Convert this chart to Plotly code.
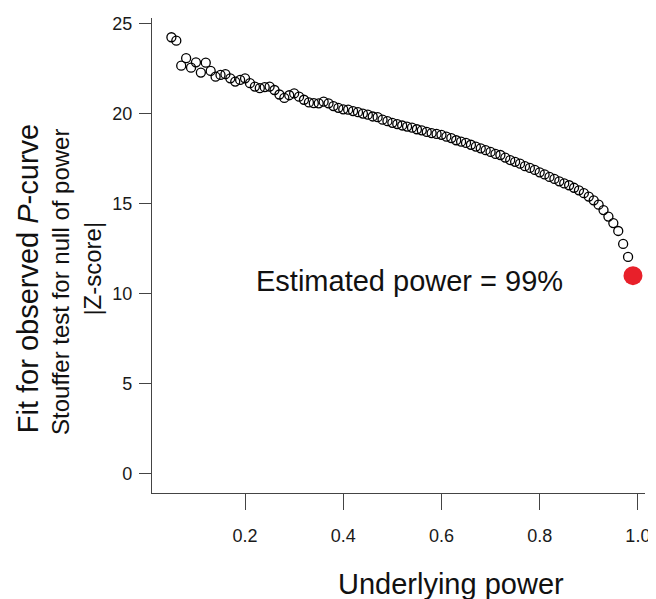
import plotly.graph_objects as go

# Underlying power levels (open circles) and the Stouffer |Z| fit
power = [0.05, 0.06, 0.07, 0.08, 0.09, 0.10, 0.11, 0.12, 0.13, 0.14,
         0.15, 0.16, 0.17, 0.18, 0.19, 0.20, 0.21, 0.22, 0.23, 0.24,
         0.25, 0.26, 0.27, 0.28, 0.29, 0.30, 0.31, 0.32, 0.33, 0.34,
         0.35, 0.36, 0.37, 0.38, 0.39, 0.40, 0.41, 0.42, 0.43, 0.44,
         0.45, 0.46, 0.47, 0.48, 0.49, 0.50, 0.51, 0.52, 0.53, 0.54,
         0.55, 0.56, 0.57, 0.58, 0.59, 0.60, 0.61, 0.62, 0.63, 0.64,
         0.65, 0.66, 0.67, 0.68, 0.69, 0.70, 0.71, 0.72, 0.73, 0.74,
         0.75, 0.76, 0.77, 0.78, 0.79, 0.80, 0.81, 0.82, 0.83, 0.84,
         0.85, 0.86, 0.87, 0.88, 0.89, 0.90, 0.91, 0.92, 0.93, 0.94,
         0.95, 0.96, 0.97, 0.98]
zscore = [24.22, 24.03, 22.64, 23.06, 22.53, 22.83, 22.26, 22.81, 22.35, 22.03,
          22.13, 22.17, 21.94, 21.76, 21.85, 21.94, 21.67, 21.48, 21.39, 21.45,
          21.48, 21.29, 21.04, 20.85, 21.00, 21.10, 20.92, 20.75, 20.60, 20.56,
          20.55, 20.64, 20.55, 20.40, 20.30, 20.22, 20.20, 20.12, 20.06, 19.98,
          19.92, 19.82, 19.78, 19.64, 19.56, 19.47, 19.40, 19.32, 19.26, 19.20,
          19.11, 19.05, 18.96, 18.90, 18.85, 18.80, 18.70, 18.62, 18.50, 18.42,
          18.35, 18.25, 18.15, 18.05, 17.95, 17.85, 17.74, 17.68, 17.54, 17.40,
          17.30, 17.20, 17.06, 16.96, 16.85, 16.72, 16.60, 16.46, 16.35, 16.22,
          16.10, 16.00, 15.86, 15.72, 15.56, 15.37, 15.16, 14.92, 14.62, 14.26,
          13.90, 13.46, 12.74, 12.02]

# Estimated power (red point)
est_power = [0.99]
est_z = [10.98]

x_ticks = [0.2, 0.4, 0.6, 0.8, 1.0]
y_ticks = [0, 5, 10, 15, 20, 25]

FONT = "Liberation Sans, Arial, Helvetica, sans-serif"

# The page body adds an 8px margin, so the figure is 8px smaller and offset.
OFF = 8
W, H = 656 - OFF, 599 - OFF
L, R, T, B = 152 - OFF, 6, 18 - OFF, 106  # plot area on page: x 152..650, y 18..493

fig = go.Figure()
fig.add_trace(go.Scatter(
    x=power, y=zscore, mode="markers",
    marker=dict(symbol="circle-open", size=9, color="black",
                line=dict(width=1.3, color="black")),
    showlegend=False, hoverinfo="x+y"))
fig.add_trace(go.Scatter(
    x=est_power, y=est_z, mode="markers",
    marker=dict(symbol="circle", size=19, color="#e8202a",
                line=dict(width=0)),
    showlegend=False, hoverinfo="x+y"))

axis_common = dict(showgrid=False, zeroline=False, showline=True,
                   linecolor="#444", linewidth=1.3, ticks="outside",
                   tickcolor="#444", tickwidth=1.3,
                   tickfont=dict(family=FONT, size=18, color="#1a1a1a"))

fig.update_xaxes(range=[0.0105, 1.0145], tickvals=x_ticks,
                 ticktext=[f"{v:.1f}" for v in x_ticks], ticklen=16,
                 ticklabelstandoff=10, **axis_common)
fig.update_yaxes(range=[-1.094, 25.29], tickvals=y_ticks,
                 ticktext=[str(v) for v in y_ticks], ticklen=12,
                 ticklabelstandoff=3, **axis_common)

# Page-pixel helpers for annotation placement (plot area on page: x 152..650, y 18..493)
def px_x(p):
    return (p - 152) / 498.0

def px_y(p):
    return (493 - p) / 475.0

annots = [
    dict(text="Underlying power", x=px_x(454), y=px_y(584), size=29, angle=0),
    dict(text="Fit for observed <i>P</i>-curve", x=px_x(27), y=px_y(279), size=29, angle=-90),
    dict(text="Stouffer test for null of power", x=px_x(59), y=px_y(282), size=24, angle=-90),
    dict(text="|Z-score|", x=px_x(91), y=px_y(269), size=24, angle=-90),
    dict(text="Estimated power = 99%", x=px_x(412.5), y=px_y(281), size=29, angle=0),
]
for a in annots:
    fig.add_annotation(text=a["text"], xref="paper", yref="paper",
                       x=a["x"], y=a["y"], xanchor="center", yanchor="middle",
                       textangle=a["angle"], showarrow=False,
                       font=dict(family=FONT, size=a["size"], color="#111"))

fig.update_layout(width=W, height=H,
                  margin=dict(l=L, r=R, t=T, b=B),
                  paper_bgcolor="white", plot_bgcolor="white")

fig.write_html("out.html")
